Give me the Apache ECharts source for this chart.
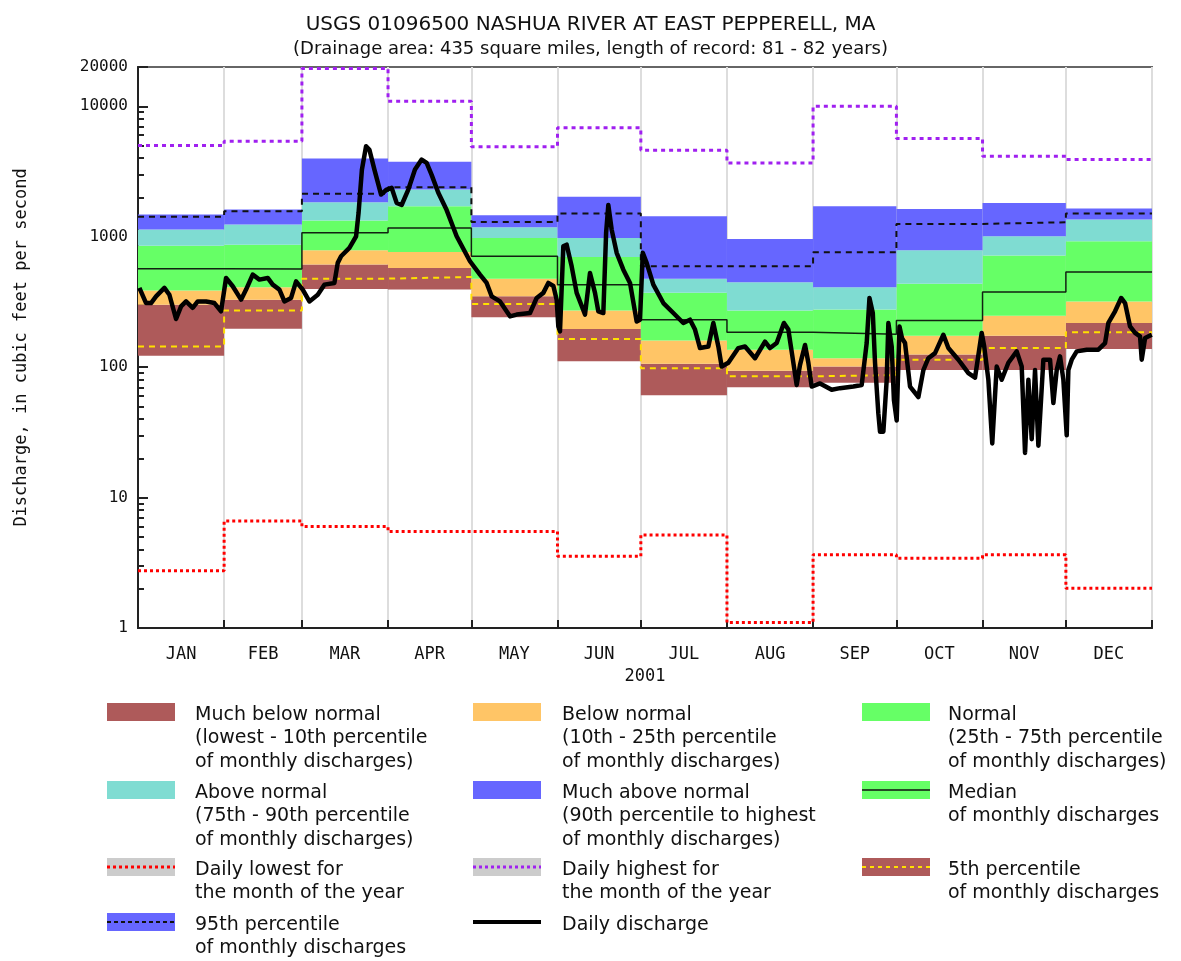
<!DOCTYPE html>
<html>
<head>
<meta charset="utf-8">
<title>USGS 01096500 Nashua River</title>
<script src="https://cdn.jsdelivr.net/npm/echarts@6/dist/echarts.min.js"></script>
<style>
  html, body { margin: 0; padding: 0; background: #fff; }
  #chart { width: 1181px; height: 961px; }
</style>
</head>
<body>
<div id="chart"></div>
<script>
// month layout (day of year)
var monthNames = ['JAN', 'FEB', 'MAR', 'APR', 'MAY', 'JUN', 'JUL', 'AUG', 'SEP', 'OCT', 'NOV', 'DEC'];
var monthStart = [0, 31, 59, 90, 120, 151, 181, 212, 243, 273, 304, 334, 365];
var monthMid = [15.5, 45, 74.5, 105, 135.5, 166, 196.5, 227.5, 258, 288.5, 319, 349.5];
var yLabels = [1, 10, 100, 1000, 10000, 20000];
var yMinorTicks = [2, 3, 4, 5, 6, 7, 8, 9, 20, 30, 40, 50, 60, 70, 80, 90,
    200, 300, 400, 500, 600, 700, 800, 900, 2000, 3000, 4000, 5000, 6000, 7000, 8000, 9000];

// monthly statistics, cfs
var minQ = [122, 197, 397, 393, 241, 111, 61, 70, 76, 95, 95, 138];
var p05 = [144, 272, 477, 491, 305, 164, 98, 85, 87, 114, 140, 185];
var p10 = [301, 329, 611, 576, 349, 196, 106, 94, 101, 125, 174, 218];
var p25 = [386, 409, 787, 764, 477, 272, 160, 136, 117, 174, 248, 319];
var p50 = [569, 565, 1070, 1168, 708, 429, 231, 185, 179, 228, 377, 537];
var p75 = [854, 869, 1330, 1710, 979, 700, 371, 272, 276, 436, 716, 922];
var p90 = [1133, 1240, 1835, 2297, 1180, 979, 477, 447, 409, 787, 1007, 1352];
var p95 = [1420, 1566, 2130, 2393, 1298, 1503, 593, 593, 759, 1254, 1290, 1503];
var maxQ = [1480, 1615, 3975, 3750, 1459, 2020, 1434, 960, 1710, 1634, 1816, 1644];
var dailyHigh = [5000, 5395, 19500, 10940, 4890, 6838, 4600, 3680, 10000, 5660, 4140, 3908];
var dailyLow = [2.75, 6.62, 6.0, 5.49, 5.5, 3.55, 5.17, 1.1, 3.65, 3.43, 3.65, 2.02];

// daily discharge 2001 (day of year, cfs)
var dischargeDay = [0.5, 2.9, 4.7, 6.5, 9.5, 11.3, 13.7, 15.5, 17.3, 19.7, 21.5, 24.5, 27.5, 29.9,
    31.7, 34.1, 37.1, 38.9, 41.3, 43.7, 46.7, 48.5, 50.9, 52.7, 55.1, 56.9, 59.3, 61.7, 64.7, 67.1,
    70.7, 71.9, 73.1, 76.1, 78.5, 79.4, 80.6, 82.1, 83.3, 85.1, 87.5, 89.5, 91.3, 93.1, 94.9, 97.3,
    99.7, 102.1, 103.9, 105.7, 108.1, 111.1, 114.7, 119.5, 123.1, 125.5, 127.3, 130.3, 133.9, 136.3,
    141.1, 143.5, 145.9, 147.7, 149.5, 150.7, 151.3, 151.9, 153.1, 154.3, 156.1, 157.9, 160.9, 162.7,
    164.5, 165.7, 167.5, 168.5, 169.3, 170.5, 172.3, 174.7, 177.1, 179.5, 180.7, 181.7, 183.1, 185.5,
    189.1, 192.7, 196.3, 198.7, 200.5, 202.3, 205.3, 207.1, 208.9, 210.1, 212.5, 216.1, 218.5, 222.1,
    225.7, 227.5, 229.9, 232.5, 234.1, 235.9, 237.1, 238.3, 240.1, 241.3, 242.5, 245.5, 249.7, 252.7,
    257.5, 260.5, 262.3, 263.3, 264.5, 265.3, 266.5, 267.1, 268.3, 269.5, 270.1, 271.3, 272.1, 273.1,
    274.1, 275, 276.1, 277.9, 280.9, 282.7, 284.5, 286.9, 289.9, 291.7, 295.3, 298.9, 301.3, 303.7,
    304.6, 306.1, 307.5, 309.1, 310.9, 313.3, 316.3, 318.1, 319.3, 320.5, 321.7, 322.9, 324.1, 325.9,
    328.3, 329.5, 330.7, 331.9, 333.1, 334.3, 334.9, 336.1, 337.9, 341.5, 345.7, 348.1, 349.3, 351.7,
    353.9, 355.3, 357.1, 358.9, 360.7, 361.3, 362.5, 364.9];
var dischargeCfs = [405, 310, 310, 349, 405, 359, 234, 292, 319, 285, 319, 319, 310, 268,
    483, 417, 329, 393, 512, 469, 483, 429, 393, 319, 339, 455, 393, 319, 359, 429,
    442, 630, 708, 820, 1007, 1524, 3273, 4940, 4640, 3270, 2104, 2300, 2370, 1816, 1750, 2300,
    3270, 3900, 3680, 2980, 2170, 1600, 1007, 648, 512, 442, 349, 319, 245, 253,
    260, 339, 371, 442, 420, 329, 205, 188, 843, 869, 593, 371, 253, 527,
    371, 268, 260, 1070, 1750, 1133, 752, 559, 442, 224, 231, 752, 630, 429,
    310, 260, 218, 231, 194, 140, 144, 218, 144, 101, 108, 140, 144, 117,
    157, 140, 153, 218, 194, 108, 73, 104, 148, 108, 71, 75, 67, 69,
    71, 73, 153, 339, 260, 108, 44, 32, 32, 80, 218, 144, 56, 39,
    205, 167, 153, 71, 59, 95, 117, 128, 177, 140, 114, 90, 83, 183,
    144, 80, 26, 101, 80, 108, 132, 101, 22, 80, 28, 95, 25, 114,
    114, 53, 95, 121, 80, 30, 95, 114, 132, 136, 136, 153, 218, 268,
    339, 310, 205, 183, 172, 114, 167, 177];

var bandColors = ['#ae5a5a', '#ffc566', '#66ff66', '#7fdcd2', '#6666ff'];
var font = 'DejaVu Sans';
var mono = 'DejaVu Sans Mono';

// rectangles: [start, end, lo, hi, colour index]
var bandData = [];
var bandEdges = [minQ, p10, p25, p75, p90, maxQ];
for (var b = 0; b < 5; b++) {
    for (var m = 0; m < 12; m++) {
        bandData.push([monthStart[m], monthStart[m + 1], bandEdges[b][m], bandEdges[b + 1][m], b]);
    }
}

function stepData(vals) {
    var out = [];
    for (var i = 0; i < 12; i++) out.push([monthStart[i], vals[i]]);
    out.push([365, vals[11]]);
    return out;
}

function stepLine(name, vals, color, width, type) {
    return {
        name: name, type: 'line', step: 'end', data: stepData(vals),
        symbol: 'none', silent: true,
        lineStyle: { color: color, width: width, type: type }
    };
}

var dischargeData = dischargeDay.map(function (d, i) { return [d, dischargeCfs[i]]; });

// legend drawn with graphic elements
var legendCols = [{ sx: 107, tx: 195 }, { sx: 473, tx: 562 }, { sx: 862, tx: 948 }];
var legendRows = [703, 781, 858, 913];
var legendItems = [
    { r: 0, c: 0, fill: bandColors[0], text: ['Much below normal', '(lowest - 10th percentile', 'of monthly discharges)'] },
    { r: 0, c: 1, fill: bandColors[1], text: ['Below normal', '(10th - 25th percentile', 'of monthly discharges)'] },
    { r: 0, c: 2, fill: bandColors[2], text: ['Normal', '(25th - 75th percentile', 'of monthly discharges)'] },
    { r: 1, c: 0, fill: bandColors[3], text: ['Above normal', '(75th - 90th percentile', 'of monthly discharges)'] },
    { r: 1, c: 1, fill: bandColors[4], text: ['Much above normal', '(90th percentile to highest', 'of monthly discharges)'] },
    { r: 1, c: 2, fill: bandColors[2], line: { color: '#111', width: 1.5, dash: 'solid' }, text: ['Median', 'of monthly discharges'] },
    { r: 2, c: 0, fill: '#cccccc', line: { color: '#ff0000', width: 3, dash: [3, 3] }, text: ['Daily lowest for', 'the month of the year'] },
    { r: 2, c: 1, fill: '#cccccc', line: { color: '#a020f0', width: 3, dash: [3, 3] }, text: ['Daily highest for', 'the month of the year'] },
    { r: 2, c: 2, fill: bandColors[0], line: { color: '#ffe000', width: 2, dash: [4, 4] }, text: ['5th percentile', 'of monthly discharges'] },
    { r: 3, c: 0, fill: bandColors[4], line: { color: '#111', width: 2, dash: [4, 3] }, text: ['95th percentile', 'of monthly discharges'] },
    { r: 3, c: 1, fill: null, line: { color: '#000', width: 4, dash: 'solid' }, text: ['Daily discharge'] }
];
var graphics = [];
legendItems.forEach(function (it) {
    var sx = legendCols[it.c].sx, tx = legendCols[it.c].tx, top = legendRows[it.r];
    if (it.fill) {
        graphics.push({ type: 'rect', shape: { x: sx, y: top, width: 68, height: 18 }, style: { fill: it.fill } });
    }
    if (it.line) {
        graphics.push({ type: 'line', shape: { x1: sx, y1: top + 9, x2: sx + 68, y2: top + 9 },
            style: { stroke: it.line.color, lineWidth: it.line.width, lineDash: it.line.dash } });
    }
    it.text.forEach(function (t, k) {
        graphics.push({ type: 'text', x: tx, y: top + 12 + k * 23.5,
            style: { text: t, font: '19px "' + font + '"', fill: '#111', verticalAlign: 'middle' } });
    });
});

var option = {
    backgroundColor: '#fff',
    animation: false,
    title: {
        text: 'USGS 01096500 NASHUA RIVER AT EAST PEPPERELL, MA',
        subtext: '(Drainage area: 435 square miles, length of record: 81 - 82 years)',
        left: 'center', top: 10, itemGap: 5,
        textStyle: { fontFamily: font, fontSize: 20, fontWeight: 'normal', color: '#111' },
        subtextStyle: { fontFamily: font, fontSize: 18, color: '#111' }
    },
    grid: {
        left: 138, right: 29, top: 67, bottom: 333,
        show: true, borderColor: '#666', borderWidth: 2, backgroundColor: '#fff'
    },
    xAxis: {
        type: 'value', min: 0, max: 365,
        name: '2001', nameLocation: 'middle', nameGap: 40,
        nameTextStyle: { fontFamily: mono, fontSize: 17, color: '#111' },
        axisLine: { lineStyle: { color: '#222', width: 2 } },
        axisTick: { customValues: monthStart, inside: true, length: 8, lineStyle: { color: '#222', width: 2 } },
        axisLabel: {
            customValues: monthMid, margin: 18,
            fontFamily: mono, fontSize: 17, color: '#111',
            formatter: function (v) { return monthNames[monthMid.indexOf(v)]; }
        },
        splitLine: { show: true, lineStyle: { color: '#dddddd', width: 2 } }
    },
    yAxis: [{
        type: 'log', logBase: 10, min: 1, max: 20000,
        name: 'Discharge, in cubic feet per second', nameLocation: 'middle', nameGap: 108,
        nameTextStyle: { fontFamily: mono, fontSize: 17, color: '#111' },
        axisLine: { show: true, lineStyle: { color: '#222', width: 2 } },
        axisTick: { customValues: yLabels, inside: true, length: 10, lineStyle: { color: '#222', width: 2 } },
        axisLabel: {
            customValues: yLabels, margin: 10, fontFamily: mono, fontSize: 16, color: '#111',
            formatter: function (v) { return String(Math.round(v)); }
        },
        splitLine: { show: false }
    }, {
        type: 'log', logBase: 10, min: 1, max: 20000, position: 'left',
        axisLine: { show: false },
        axisTick: { customValues: yMinorTicks, inside: true, length: 6, lineStyle: { color: '#222', width: 2 } },
        axisLabel: { show: false },
        splitLine: { show: false }
    }],
    graphic: graphics,
    series: [
        {
            name: 'bands', type: 'custom', silent: true,
            data: bandData,
            encode: { x: [0, 1], y: [2, 3] },
            renderItem: function (params, api) {
                var a = api.coord([api.value(0), api.value(3)]);
                var c = api.coord([api.value(1), api.value(2)]);
                return {
                    type: 'rect',
                    shape: { x: a[0], y: a[1], width: c[0] - a[0], height: c[1] - a[1] },
                    style: { fill: bandColors[api.value(4)] }
                };
            }
        },
        stepLine('Median', p50, '#112211', 1.5, 'solid'),
        stepLine('5th percentile', p05, '#ffe000', 2, [6, 5]),
        stepLine('95th percentile', p95, '#111', 2, [6, 5]),
        stepLine('Daily highest', dailyHigh, '#a020f0', 3, [4, 4]),
        stepLine('Daily lowest', dailyLow, '#ff0000', 3, [3, 3]),
        {
            name: 'Daily discharge', type: 'line', data: dischargeData,
            symbol: 'none', silent: true,
            lineStyle: { color: '#000', width: 4.5, join: 'round' }
        }
    ]
};

var myChart = echarts.init(document.getElementById('chart'));
myChart.setOption(option);
</script>
</body>
</html>
